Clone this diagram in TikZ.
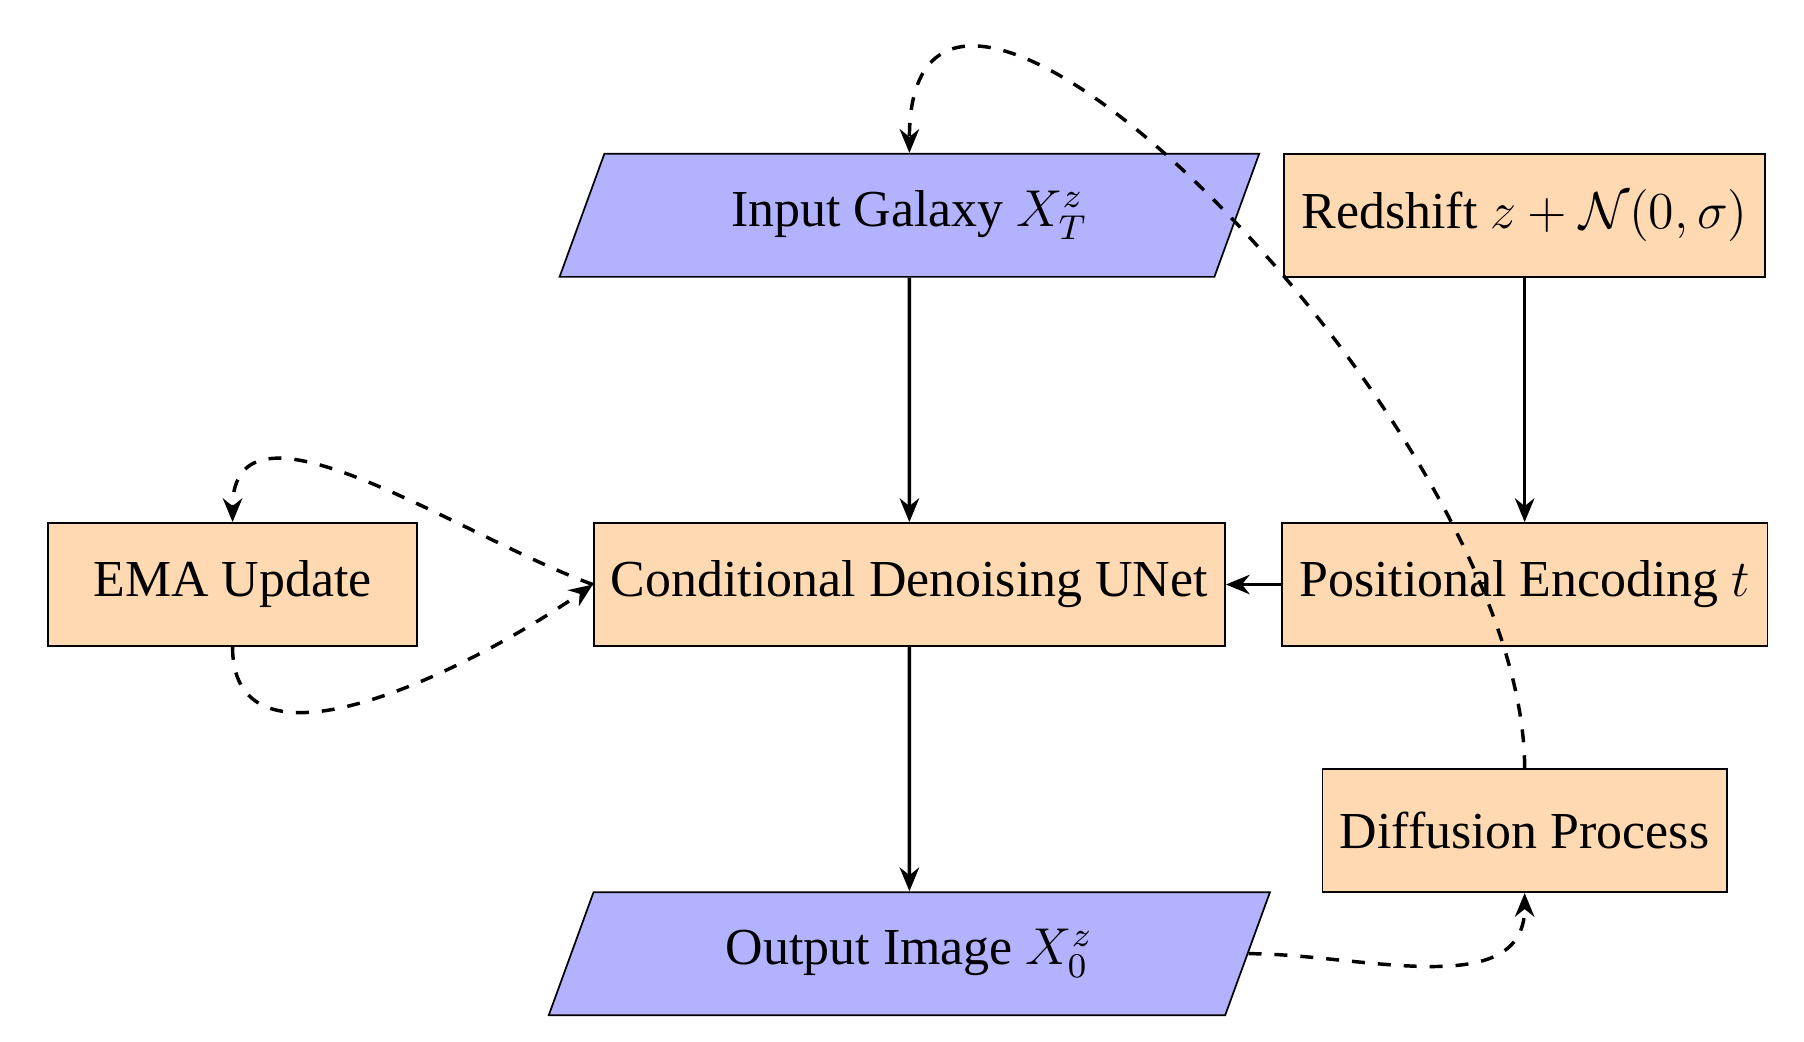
\documentclass[tikz,border=0pt,12pt]{standalone}
\usepackage{amsmath}
\usepackage{amssymb}
\usepackage{fontspec}
\setmainfont{Liberation Serif}
\usepackage{tikz}
\usetikzlibrary{shapes.geometric}
\usetikzlibrary{arrows.meta}

\begin{document}
\begin{tikzpicture}[process/.style={rectangle, draw=black, fill=orange!30, minimum width=3cm, minimum height=1cm, text centered},
		io/.style={trapezium, trapezium left angle=70, trapezium right angle=110, draw=black, fill=blue!30, minimum width=3cm, minimum height=1cm, inner xsep=6.8pt, text centered},
		flow/.style={thick, >={Stealth[length=5.5pt, width=4.5pt]}},
		loop/.style={thick, dashed, >={Stealth[length=5.5pt, width=4.5pt]}}]
		\useasboundingbox (-7.39,-3.71) rectangle (7.27,4.75);
		\node[process] (1) at (0,0) {Conditional Denoising UNet};
		\node[io] (2) at (0,3) {Input Galaxy $X_T^z$};
		\node[process] (3) at (5,3) {Redshift $z+\mathcal{N}(0,\sigma)$};
		\node[process] (4) at (5,0) {Positional Encoding $t$};
		\node[process] (5) at (-5.5,0) {EMA Update};
		\node[io] (6) at (0,-3) {Output Image $X_0^z$};
		\node[process] (7) at (5,-2) {Diffusion Process};
		
		\path (2) edge[flow, ->]  (1);
		\path (3) edge[flow, ->]  (4);
		\path (4) edge[flow, ->]  (1);
		\path (1) edge[flow, ->]  (6);
		\path (1.west) edge[loop, ->, out=160, in=90]  (5.north);
		\path (5.south) edge[loop, ->, out=-90, in=215]  (1.west);
		\path (6.east) edge[loop, ->, out=0, in=-90]  (7.south);
		\path (7.north) edge[loop, ->, out=90, in=90]  (2.north);
		
	\end{tikzpicture}
\end{document}
